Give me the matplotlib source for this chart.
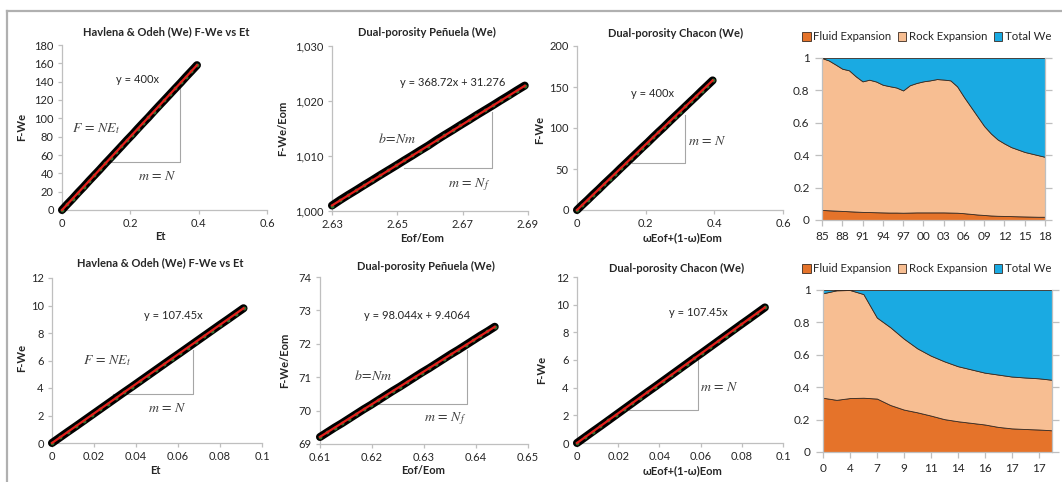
import matplotlib
matplotlib.use('Agg')
import matplotlib.pyplot as plt
from matplotlib.patches import Patch
from matplotlib.lines import Line2D
from matplotlib.ticker import FuncFormatter

plt.rcParams['font.family'] = ['Lato', 'DejaVu Sans']
plt.rcParams['mathtext.fontset'] = 'stix'

# ---------------- data ----------------
# Havlena & Odeh / Chacon (top row): F-We vs Et
et_top = [0.000, 0.015, 0.031, 0.047, 0.063, 0.079, 0.095, 0.111, 0.127, 0.142, 0.158, 0.174, 0.190,
          0.206, 0.221, 0.237, 0.253, 0.268, 0.284, 0.300, 0.316, 0.332, 0.348, 0.363, 0.379, 0.395]
fwe_top = [0.0, 6.1, 12.3, 18.9, 25.1, 31.7, 38.0, 44.3, 50.9, 56.8, 63.2, 69.6, 76.1,
           82.3, 88.5, 94.9, 101.1, 107.3, 113.7, 120.0, 126.4, 132.8, 139.1, 145.3, 151.6, 158.0]
# Dual-porosity Peñuela (top row)
eof_eom_top = [2.6300, 2.6325, 2.6349, 2.6374, 2.6398, 2.6423, 2.6447, 2.6472, 2.6497, 2.6521, 2.6546,
               2.6570, 2.6595, 2.6620, 2.6644, 2.6669, 2.6693, 2.6718, 2.6742, 2.6767, 2.6792, 2.6816,
               2.6841, 2.6865, 2.6890]
fwe_eom_top = [1001.0, 1002.0, 1002.9, 1003.8, 1004.7, 1005.6, 1006.5, 1007.4, 1008.3, 1009.2, 1010.1,
               1011.0, 1011.9, 1012.9, 1013.8, 1014.7, 1015.6, 1016.5, 1017.4, 1018.3, 1019.2, 1020.1,
               1021.0, 1021.9, 1022.8]
# bottom row: Havlena & Odeh / Chacon
et_bot = [0.0000, 0.0038, 0.0076, 0.0114, 0.0152, 0.0190, 0.0228, 0.0266, 0.0304, 0.0342, 0.0380, 0.0418,
          0.0456, 0.0494, 0.0532, 0.0570, 0.0608, 0.0646, 0.0684, 0.0722, 0.0760, 0.0798, 0.0836, 0.0874, 0.0912]
fwe_bot = [0.00, 0.41, 0.82, 1.22, 1.63, 2.04, 2.45, 2.86, 3.27, 3.68, 4.08, 4.49,
           4.90, 5.31, 5.72, 6.13, 6.53, 6.94, 7.35, 7.76, 8.17, 8.58, 8.98, 9.39, 9.80]
# bottom row: Peñuela
eof_eom_bot = [0.6100, 0.6114, 0.6128, 0.6142, 0.6156, 0.6170, 0.6184, 0.6198, 0.6212, 0.6226, 0.6240,
               0.6254, 0.6268, 0.6282, 0.6296, 0.6310, 0.6324, 0.6338, 0.6352, 0.6366, 0.6380, 0.6394,
               0.6408, 0.6422, 0.6436]
fwe_eom_bot = [69.21, 69.35, 69.49, 69.62, 69.76, 69.90, 70.04, 70.17, 70.31, 70.45, 70.59, 70.72,
               70.86, 71.00, 71.14, 71.27, 71.41, 71.55, 71.69, 71.82, 71.96, 72.10, 72.24, 72.37, 72.51]

# trend-line coefficients (slope, intercept)
trend_ho_top = (400.0, 0.0)
trend_pe_top = (368.72, 31.276)
trend_ho_bot = (107.45, 0.0)
trend_pe_bot = (98.044, 9.4064)

# Drive-index area charts
years_top = list(range(34))  # 1985 .. 2018
year_labels_top = ['85', '88', '91', '94', '97', '00', '03', '06', '09', '12', '15', '18']
fluid_top = [0.062, 0.060, 0.058, 0.056, 0.054, 0.052, 0.050, 0.049, 0.048, 0.047, 0.046, 0.046,
             0.045, 0.046, 0.047, 0.047, 0.047, 0.047, 0.047, 0.046, 0.045, 0.042, 0.038, 0.034,
             0.031, 0.028, 0.026, 0.025, 0.024, 0.023, 0.022, 0.021, 0.020, 0.020]
top_boundary_top = [1.000, 0.985, 0.960, 0.934, 0.924, 0.887, 0.856, 0.866, 0.855, 0.835, 0.826, 0.818,
                    0.800, 0.832, 0.846, 0.856, 0.862, 0.870, 0.867, 0.862, 0.825, 0.760, 0.700, 0.640,
                    0.580, 0.534, 0.497, 0.472, 0.450, 0.435, 0.420, 0.410, 0.400, 0.390]
rock_top = [t - f for t, f in zip(top_boundary_top, fluid_top)]
we_top = [1.0 - t for t in top_boundary_top]

x_bot = list(range(18))
year_labels_bot = ['0', '4', '7', '9', '11', '14', '16', '17', '17']
fluid_bot = [0.335, 0.322, 0.333, 0.335, 0.330, 0.290, 0.262, 0.245, 0.225, 0.203, 0.190, 0.180,
             0.170, 0.155, 0.146, 0.142, 0.139, 0.134]
top_boundary_bot = [0.980, 0.998, 1.000, 0.975, 0.830, 0.770, 0.700, 0.640, 0.595, 0.560, 0.530, 0.510,
                    0.490, 0.478, 0.466, 0.460, 0.455, 0.446]
rock_bot = [t - f for t, f in zip(top_boundary_bot, fluid_bot)]
we_bot = [1.0 - t for t in top_boundary_bot]

series_names = ['Fluid Expansion', 'Rock Expansion', 'Total We']
series_colors = ['#E5732A', '#F7BE92', '#1AAAE2']

# ---------------- figure ----------------
W, H = 1062, 482
fig = plt.figure(figsize=(W / 100, H / 100), dpi=100)
fig.patch.set_facecolor('white')

def ax_px(l, t, r, b):
    return fig.add_axes([l / W, 1 - b / H, (r - l) / W, (b - t) / H])

def fx(x):
    return x / W

def fy(y):
    return 1 - y / H

TXT = '#262626'
GRID = '#BFBFBF'
TS = 8

def style_axes(ax):
    for s in ['top', 'right']:
        ax.spines[s].set_visible(False)
    for s in ['left', 'bottom']:
        ax.spines[s].set_color(GRID)
        ax.spines[s].set_linewidth(0.9)
    ax.tick_params(colors=GRID, labelcolor=TXT, labelsize=TS, length=3, width=0.9, pad=3)
    ax.set_facecolor('none')

def draw_scatter(ax, x, y, trend):
    slope, icpt = trend
    # dense black-edged markers -> thick black band
    ax.plot(x, y, color='black', lw=5.8, solid_capstyle='round', zorder=3, clip_on=False)
    ax.plot(x, y, linestyle='none', marker='o', ms=2.8, mfc='#2f6e2f', mec='none',
            zorder=3.5, clip_on=False)
    xs = [x[0], x[-1]]
    ax.plot(xs, [slope * v + icpt for v in xs], color='#E3211C', lw=1.6, zorder=4, clip_on=False)

def tri(ax, x0, x1, y0, y1):
    ax.plot([x0, x1, x1], [y0, y0, y1], color='#A6A6A6', lw=0.8, zorder=2)

def mtext(ax, x, y, s):
    ax.text(x, y, s, fontsize=10, color='#404040', ha='center', va='center', zorder=5)

def eqtext(ax, x, y, s):
    ax.text(x, y, s, fontsize=TS, color=TXT, ha='center', va='center', zorder=5)

def title(x, y, s):
    fig.text(fx(x), fy(y), s, fontsize=TS, fontweight='bold', color=TXT, ha='center', va='center')

def xlab(x, y, s):
    fig.text(fx(x), fy(y), s, fontsize=TS, fontweight='bold', color=TXT, ha='center', va='center')

def ylab(x, y, s):
    fig.text(fx(x), fy(y), s, fontsize=TS, fontweight='bold', color=TXT, ha='center', va='center',
             rotation=90)

comma = FuncFormatter(lambda v, p: f'{v:,.0f}')
plain = FuncFormatter(lambda v, p: f'{v:g}')

# ---- Panel 1: Havlena & Odeh top ----
a1 = ax_px(62, 45, 267, 210)
style_axes(a1)
draw_scatter(a1, et_top, fwe_top, trend_ho_top)
a1.set_xlim(0, 0.6); a1.set_ylim(0, 180)
a1.set_xticks([0, 0.2, 0.4, 0.6]); a1.set_yticks(range(0, 181, 20))
a1.xaxis.set_major_formatter(plain)
tri(a1, 0.14, 0.345, 52, 133)
eqtext(a1, 0.22, 142, 'y = 400x')
mtext(a1, 0.10, 89, r'$F\,=\,NE_t$')
mtext(a1, 0.28, 38, r'$m\,=\,N$')
title(166, 32, 'Havlena & Odeh (We) F-We vs Et')
ylab(22, 127, 'F-We')
xlab(160, 237, 'Et')

# ---- Panel 2: Peñuela top ----
a2 = ax_px(332, 46, 528, 211)
style_axes(a2)
draw_scatter(a2, eof_eom_top, fwe_eom_top, trend_pe_top)
a2.set_xlim(2.63, 2.69); a2.set_ylim(1000, 1030)
a2.set_xticks([2.63, 2.65, 2.67, 2.69]); a2.set_yticks([1000, 1010, 1020, 1030])
a2.yaxis.set_major_formatter(comma)
a2.xaxis.set_major_formatter(FuncFormatter(lambda v, p: f'{v:.2f}'))
tri(a2, 2.652, 2.679, 1007.8, 1018.0)
eqtext(a2, 2.667, 1023.4, 'y = 368.72x + 31.276')
mtext(a2, 2.650, 1013.3, r'$b\!=\!Nm$')
mtext(a2, 2.672, 1004.8, r'$m\,=\,N_f$')
title(427, 32, 'Dual-porosity Peñuela (We)')
ylab(283, 128, 'F-We/Eom')
xlab(422, 238, 'Eof/Eom')

# ---- Panel 3: Chacon top ----
a3 = ax_px(577, 46, 783, 210)
style_axes(a3)
draw_scatter(a3, et_top, fwe_top, trend_ho_top)
a3.set_xlim(0, 0.6); a3.set_ylim(0, 200)
a3.set_xticks([0, 0.2, 0.4, 0.6]); a3.set_yticks(range(0, 201, 50))
a3.xaxis.set_major_formatter(plain)
tri(a3, 0.16, 0.315, 57, 116)
eqtext(a3, 0.22, 142, 'y = 400x')
mtext(a3, 0.38, 85, r'$m\,=\,N$')
title(676, 33, 'Dual-porosity Chacon (We)')
ylab(540, 130, 'F-We')
xlab(683, 238, 'ωEof+(1-ω)Eom')

# ---- Panel 5: Havlena & Odeh bottom ----
a5 = ax_px(52, 278, 262, 443)
style_axes(a5)
draw_scatter(a5, et_bot, fwe_bot, trend_ho_bot)
a5.set_xlim(0, 0.1); a5.set_ylim(0, 12)
a5.set_xticks([0, 0.02, 0.04, 0.06, 0.08, 0.1]); a5.set_yticks(range(0, 13, 2))
a5.xaxis.set_major_formatter(plain)
tri(a5, 0.029, 0.067, 3.6, 6.8)
eqtext(a5, 0.058, 9.3, 'y = 107.45x')
mtext(a5, 0.026, 6.0, r'$F\,=\,NE_t$')
mtext(a5, 0.055, 2.6, r'$m\,=\,N$')
title(160, 263, 'Havlena & Odeh (We) F-We vs Et')
ylab(22, 358, 'F-We')
xlab(155, 471, 'Et')

# ---- Panel 6: Peñuela bottom ----
a6 = ax_px(320, 277, 528, 444)
style_axes(a6)
draw_scatter(a6, eof_eom_bot, fwe_eom_bot, trend_pe_bot)
a6.set_xlim(0.61, 0.65); a6.set_ylim(69, 74)
a6.set_xticks([0.61, 0.62, 0.63, 0.64, 0.65]); a6.set_yticks(range(69, 75))
a6.xaxis.set_major_formatter(FuncFormatter(lambda v, p: f'{v:.2f}'))
tri(a6, 0.6196, 0.6383, 70.2, 71.8)
eqtext(a6, 0.6286, 72.86, 'y = 98.044x + 9.4064')
mtext(a6, 0.6202, 71.07, r'$b\!=\!Nm$')
mtext(a6, 0.634, 69.75, r'$m\,=\,N_f$')
title(426, 266, 'Dual-porosity Peñuela (We)')
ylab(285, 360, 'F-We/Eom')
xlab(423, 470, 'Eof/Eom')

# ---- Panel 7: Chacon bottom ----
a7 = ax_px(577, 277, 783, 443)
style_axes(a7)
draw_scatter(a7, et_bot, fwe_bot, trend_ho_bot)
a7.set_xlim(0, 0.1); a7.set_ylim(0, 12)
a7.set_xticks([0, 0.02, 0.04, 0.06, 0.08, 0.1]); a7.set_yticks(range(0, 13, 2))
a7.xaxis.set_major_formatter(plain)
tri(a7, 0.025, 0.0587, 2.4, 6.1)
eqtext(a7, 0.0587, 9.4, 'y = 107.45x')
mtext(a7, 0.069, 4.05, r'$m\,=\,N$')
title(677, 268, 'Dual-porosity Chacon (We)')
ylab(542, 370, 'F-We')
xlab(683, 471, 'ωEof+(1-ω)Eom')

# ---- Area panels ----
def area_panel(ax, x, fluid, rock, we, tick_pos, tick_labels):
    ax.stackplot(x, fluid, rock, we, colors=series_colors, edgecolor='#3a2a20', linewidth=0.6)
    ax.set_xlim(x[0], x[-1]); ax.set_ylim(0, 1)
    ax.set_yticks([0, 0.2, 0.4, 0.6, 0.8, 1])
    ax.yaxis.set_major_formatter(plain)
    ax.set_xticks(tick_pos); ax.set_xticklabels(tick_labels)
    ax.spines['top'].set_visible(False)
    for s in ['left', 'bottom', 'right']:
        ax.spines[s].set_color(GRID); ax.spines[s].set_linewidth(0.9)
    ax.tick_params(colors=GRID, labelcolor=TXT, labelsize=TS + 0.5, length=4, width=0.9, pad=4)
    ax.tick_params(axis='y', right=True, length=5)

a4 = ax_px(822, 58, 1045, 220)
area_panel(a4, years_top, fluid_top, rock_top, we_top, list(range(0, 34, 3)), year_labels_top)
a8 = ax_px(823, 290, 1052, 452)
area_panel(a8, x_bot, fluid_bot, rock_bot, we_bot, list(range(0, 18, 2)), year_labels_bot)

handles = [Patch(facecolor=c, edgecolor='#3a2a20', linewidth=0.6) for c in series_colors]
for ycen in (37, 269):
    fig.legend(handles, series_names, loc='center left', bbox_to_anchor=(fx(802), fy(ycen)),
               ncol=3, frameon=False, fontsize=8.2, handlelength=0.75, handleheight=0.75,
               handletextpad=0.25, columnspacing=0.55, borderaxespad=0, borderpad=0,
               labelcolor=TXT)

# frame lines
fig.add_artist(Line2D([fx(7), 1], [fy(11), fy(11)], color='#B0B0B0', lw=1.6))
fig.add_artist(Line2D([fx(7), fx(7)], [fy(11), 0], color='#B0B0B0', lw=1.6))

fig.savefig('out.png', dpi=100)
